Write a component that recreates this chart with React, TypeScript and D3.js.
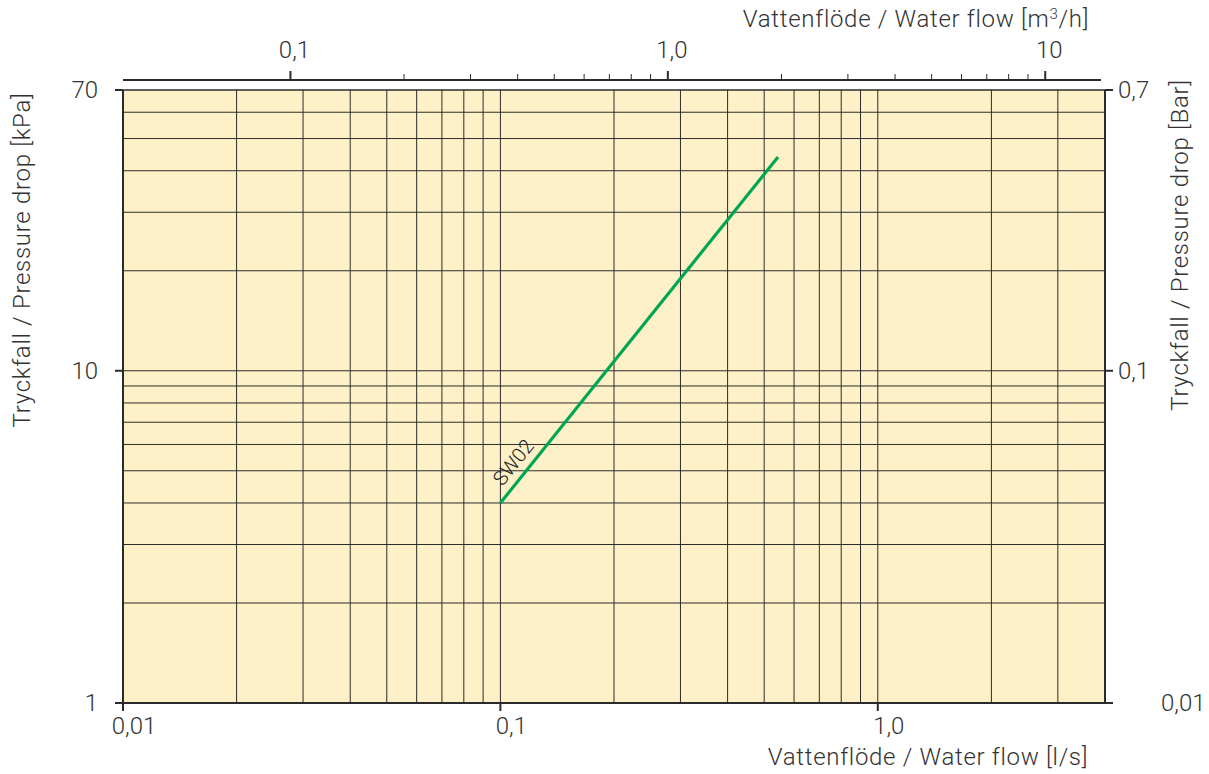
import React from "react";
import * as d3 from "d3";

// flow in l/s, pressure drop in kPa
const seriesName = "SW02";
const flowLs = [0.1, 0.544];
const dropKpa = [4.0, 44];

const gridFlow = [0.02, 0.03, 0.04, 0.05, 0.06, 0.07, 0.08, 0.09, 0.1, 0.2, 0.3, 0.4, 0.5, 0.6, 0.7, 0.8, 0.9, 1, 2, 3];
const gridDrop = [2, 3, 4, 5, 6, 7, 8, 9, 10, 20, 30, 40, 50, 60];

const bottomTicks = [0.01, 0.1, 1];
const bottomLabels = ["0,01", "0,1", "1,0"];
const leftTicks = [1, 10, 70];
const leftLabels = ["1", "10", "70"];
const rightTicks = [0.01, 0.1, 0.7];
const rightLabels = ["0,01", "0,1", "0,7"];
const topMajor = [0.1, 1, 10];
const topLabels = ["0,1", "1,0", "10"];
const topMinor = [0.2, 0.3, 0.4, 0.5, 0.6, 0.7, 0.8, 0.9, 2, 3, 4, 5, 6, 7, 8, 9];

const W = 1209;
const H = 774;
const font = "Roboto, 'Liberation Sans', sans-serif";
const ink = "#2b2b2b";
const textInk = "#333";

export default function App() {
  const margin = { left: 123, right: 1105, top: 90, bottom: 703 };

  const x = d3.scaleLog().domain([0.01, 4]).range([margin.left, margin.right]);
  const y = d3.scaleLog().domain([1, 70]).range([margin.bottom, margin.top]);
  const yBar = d3.scaleLog().domain([0.01, 0.7]).range([margin.bottom, margin.top]);
  const xTop = d3.scaleLog().domain([0.036, 14.4]).range([margin.left, margin.right]);

  const line = d3
    .line<number>()
    .x((d, i) => x(flowLs[i]))
    .y((d) => y(d));

  const topY = 80;
  const angle =
    (Math.atan2(y(dropKpa[1]) - y(dropKpa[0]), x(flowLs[1]) - x(flowLs[0])) * 180) / Math.PI;

  const tickText = { fontSize: 24, fontWeight: 300, fill: textInk };
  const titleText = { fontSize: 24, fontWeight: 300, fill: textInk, letterSpacing: 0.7 };

  return (
    <svg width={W} height={H} style={{ position: "absolute", left: 0, top: 0 }} fontFamily={font}>
      <rect
        x={margin.left}
        y={margin.top}
        width={margin.right - margin.left}
        height={margin.bottom - margin.top}
        fill="#fff1c7"
      />

      {gridFlow.map((v) => (
        <line key={"gx" + v} x1={x(v)} x2={x(v)} y1={margin.top} y2={margin.bottom} stroke={ink} strokeWidth={1} />
      ))}
      {gridDrop.map((v) => (
        <line key={"gy" + v} x1={margin.left} x2={margin.right} y1={y(v)} y2={y(v)} stroke={ink} strokeWidth={1} />
      ))}

      {/* frame */}
      <line x1={margin.left} x2={margin.right} y1={margin.top} y2={margin.top} stroke={ink} strokeWidth={1.5} />
      <line x1={margin.left} x2={margin.left} y1={margin.top} y2={margin.bottom + 8} stroke={ink} strokeWidth={2} />
      <line x1={margin.right} x2={margin.right} y1={margin.top} y2={margin.bottom} stroke={ink} strokeWidth={2} />
      <line x1={margin.left} x2={margin.right + 8} y1={margin.bottom} y2={margin.bottom} stroke={ink} strokeWidth={2} />

      {/* left axis */}
      {leftTicks.map((v, i) => (
        <g key={"l" + v}>
          <line x1={margin.left - 8} x2={margin.left} y1={y(v)} y2={y(v)} stroke={ink} strokeWidth={2} />
          <text x={margin.left - 25} y={y(v)} dy="0.35em" textAnchor="end" {...tickText}>
            {leftLabels[i]}
          </text>
        </g>
      ))}

      {/* right axis */}
      {rightTicks.map((v, i) => (
        <g key={"r" + v}>
          <line x1={margin.right} x2={margin.right + 8} y1={yBar(v)} y2={yBar(v)} stroke={ink} strokeWidth={2} />
          <text
            x={v === 0.01 ? margin.right + 56 : margin.right + 13}
            y={yBar(v)}
            dy="0.35em"
            textAnchor="start"
            {...tickText}
          >
            {rightLabels[i]}
          </text>
        </g>
      ))}

      {/* bottom axis */}
      {bottomTicks.map((v, i) => (
        <g key={"b" + v}>
          <line x1={x(v)} x2={x(v)} y1={margin.bottom} y2={margin.bottom + 8} stroke={ink} strokeWidth={2} />
          <text x={x(v) + 11} y={margin.bottom + 31} textAnchor="middle" {...tickText}>
            {bottomLabels[i]}
          </text>
        </g>
      ))}
      <text x={928} y={765} textAnchor="middle" {...titleText}>
        Vattenflöde / Water flow [l/s]
      </text>

      {/* top axis */}
      <line x1={margin.left} x2={margin.right - 4} y1={topY} y2={topY} stroke={ink} strokeWidth={2} />
      {topMinor.map((v) => (
        <line key={"tm" + v} x1={xTop(v)} x2={xTop(v)} y1={topY} y2={topY - 6} stroke={ink} strokeWidth={1} />
      ))}
      {topMajor.map((v, i) => (
        <g key={"t" + v}>
          <line x1={xTop(v)} x2={xTop(v)} y1={topY} y2={topY - 9} stroke={ink} strokeWidth={2} />
          <text x={xTop(v) + 4} y={topY - 22} textAnchor="middle" {...tickText}>
            {topLabels[i]}
          </text>
        </g>
      ))}
      <text x={916} y={27} textAnchor="middle" {...titleText}>
        Vattenflöde / Water flow [m<tspan dy={-8} fontSize={15}>3</tspan>
        <tspan dy={8}>/h]</tspan>
      </text>

      {/* axis titles */}
      <text transform="translate(30,260) rotate(-90)" textAnchor="middle" {...titleText}>
        Tryckfall / Pressure drop [kPa]
      </text>
      <text transform="translate(1188,245) rotate(-90)" textAnchor="middle" {...titleText}>
        Tryckfall / Pressure drop [Bar]
      </text>

      {/* series */}
      <path d={line(dropKpa) || ""} fill="none" stroke="#00a651" strokeWidth={3.2} />
      <text
        transform={`translate(${x(flowLs[0]) + 2},${y(dropKpa[0]) - 16}) rotate(${angle})`}
        fontSize={20}
        fontWeight={300}
        fill="#222"
      >
        {seriesName}
      </text>
    </svg>
  );
}
